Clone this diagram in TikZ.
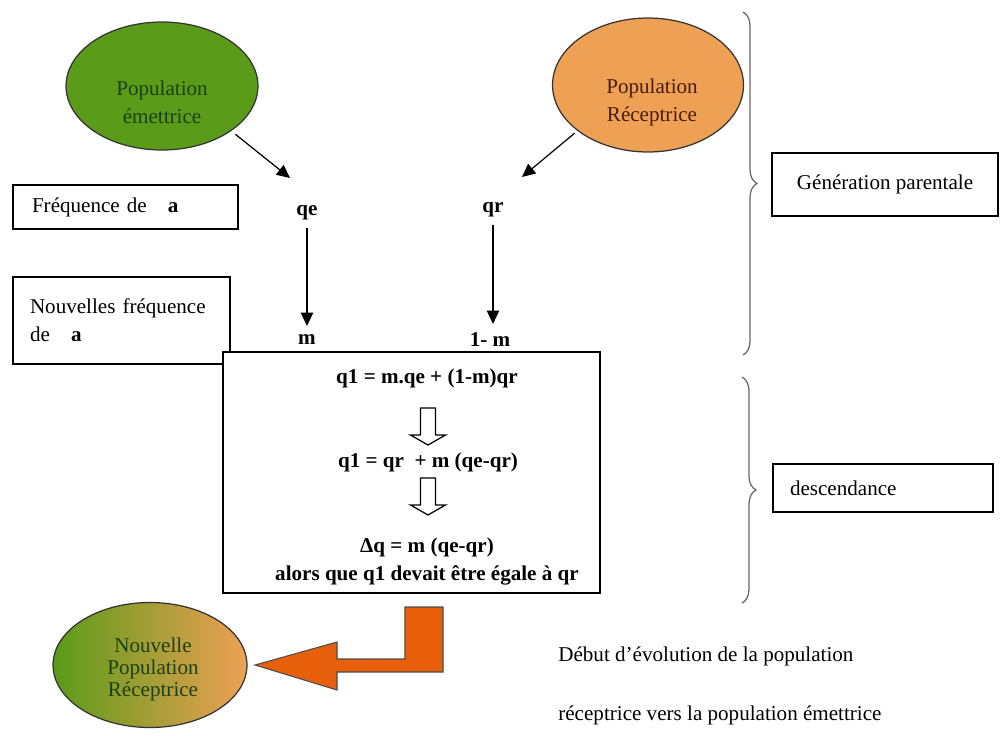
\documentclass[tikz,border=0pt]{standalone}
\usepackage{fontspec}
\setmainfont{Liberation Serif}
\usetikzlibrary{arrows.meta,shapes.geometric,decorations.pathreplacing}
\definecolor{cgreen}{HTML}{5A9B19}
\definecolor{corange}{HTML}{EEA055}
\definecolor{cflame}{HTML}{E8600C}
\definecolor{cdkgreen}{HTML}{1E4010}
\definecolor{cdkbrown}{HTML}{4A1A0A}

\begin{document}
\begin{tikzpicture}[x=0.02cm,y=-0.02cm,
  txt/.style={font=\fontsize{12}{16}\selectfont,inner sep=0pt},
  lbl/.style={font=\fontsize{12}{15}\selectfont\bfseries,inner sep=0pt},
  pop/.style={ellipse,draw=black!80,line width=0.7pt,inner sep=0pt},
  box/.style={draw,line width=0.8pt,font=\fontsize{12}{16}\selectfont,inner sep=0pt},
  arr/.style={-{Triangle[length=7.5pt,width=7pt]},line width=0.7pt},
  brc/.style={decorate,decoration={brace,amplitude=0.28cm},draw=black!60,line width=0.7pt}]
  \useasboundingbox (0,0) rectangle (1000,735);

  % parent populations
  \node[pop,fill=cgreen,minimum width=3.84cm,minimum height=2.56cm] (emet) at (162,86) {};
  \node[txt,align=center,text=cdkgreen] (emettxt) at (162,102) {Population\\émettrice};
  \node[pop,fill=corange,minimum width=3.82cm,minimum height=2.68cm] (recv) at (648,85) {};
  \node[txt,align=center,text=cdkbrown] (recvtxt) at (652,102) {Population\\Réceptrice};

  % frequencies of a
  \node[box,text width=3.74cm,inner xsep=0.38cm,align=left,minimum height=0.88cm] (freq) at (125.5,207) {Fréquence de\ \ \ \textbf{a}};
  \node[box,text width=3.66cm,inner xsep=0.34cm,align=left,minimum height=1.74cm] (nfreq) at (121.5,320.5) {Nouvelles fréquence\\de\ \ \ \textbf{a}};
  \node[lbl] (qe) at (307,213) {qe};
  \node[lbl] (qr) at (493,210) {qr};
  \node[lbl] (m) at (307,340) {m};
  \node[lbl] (m1) at (490,340) {1- m};
  \coordinate (qein) at (290,178);
  \coordinate (qrin) at (522,177);
  \draw[arr,shorten <=3pt] (emet.-33) -- (qein);
  \draw[arr,shorten <=2pt] (recv.213) -- (qrin);
  \draw[arr,shorten <=4pt,shorten >=5pt] (qe.south) -- (qe.south |- m.north);
  \draw[arr,shorten <=4pt,shorten >=5pt] (qr.south) -- (qr.south |- m1.north);

  % offspring
  \node[box,fill=white,minimum width=7.54cm,minimum height=4.82cm] (calc) at (411.5,472.5) {};
  \node[lbl] (eq1) at (427,378) {q1 = m.qe + (1-m)qr};
  \node[lbl] (eq2) at (428,462) {q1 = qr\ \ + m (qe-qr)};
  \node[lbl] (eq3) at (427,547) {Δq = m (qe-qr)};
  \node[lbl] (eq4) at (427,575) {alors que q1 devait être égale à qr};
  \foreach \y in {408,478}
    \draw[line width=0.7pt] (420.5,\y) -- (435.5,\y) -- (435.5,\y+27) -- (445.5,\y+27)
      -- (428,\y+37) -- (410.5,\y+27) -- (420.5,\y+27) -- cycle;

  % generations
  \draw[brc] (743,12) -- (743,355);
  \draw[brc] (742,377) -- (742,603);
  \node[box,minimum width=4.52cm,minimum height=1.26cm] (gen) at (885,184.5) {Génération parentale};
  \node[box,text width=3.72cm,inner xsep=0.34cm,align=left,minimum height=0.96cm] (desc) at (883,488) {descendance};

  % new receiving population
  \node[pop,left color=cgreen,right color=corange,minimum width=3.88cm,minimum height=2.5cm] (newpop) at (150,665) {};
  \node[txt,align=center,text=cdkgreen,font=\fontsize{12}{12.5}\selectfont] (newtxt) at (153,669) {Nouvelle\\Population\\Réceptrice};
  \draw[fill=cflame,draw=black!70,line width=0.6pt] (405,607) -- (443,607) -- (443,672) -- (337,672)
    -- (337,690) -- (255,665) -- (337,642) -- (337,659) -- (405,659) -- cycle;
  \node[txt,anchor=west] (evo1) at (558,656) {Début d’évolution de la population};
  \node[txt,anchor=west] (evo2) at (558,715) {réceptrice vers la population émettrice};
\end{tikzpicture}
\end{document}
